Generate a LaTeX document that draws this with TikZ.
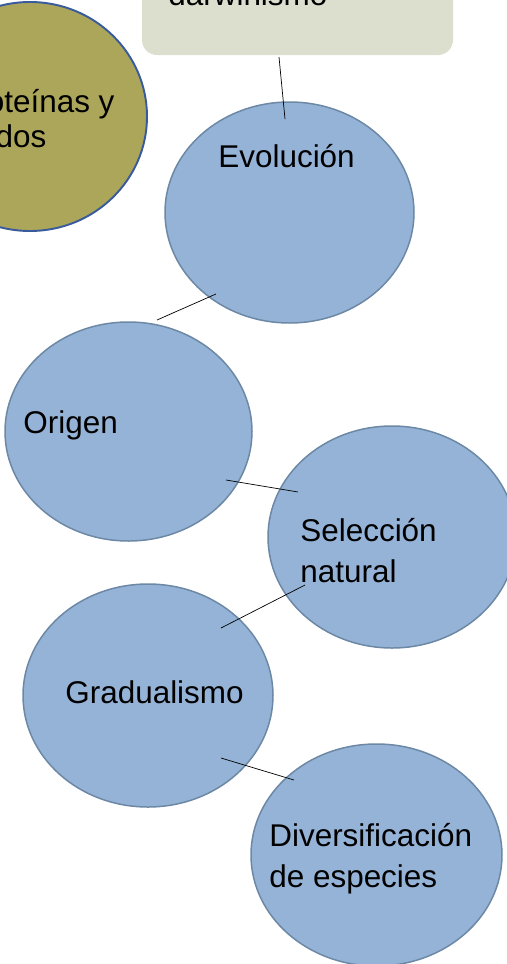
\documentclass[tikz,border=0pt]{standalone}
\usepackage{fontspec}
\setmainfont{Liberation Sans}
\usepackage{xcolor}
\usetikzlibrary{positioning,calc,shapes.geometric}

\definecolor{bubblefill}{HTML}{95B3D7}
\definecolor{bubbleline}{HTML}{6C88A5}
\definecolor{olivefill}{HTML}{ACA65A}
\definecolor{oliveline}{HTML}{3A5B9B}
\definecolor{boxfill}{HTML}{DCDECE}

\begin{document}
\begin{tikzpicture}[thin,
                bubble/.style={ellipse,fill=bubblefill,draw=bubbleline,line width=0.85pt,minimum width=4.98cm,minimum height=4.42cm,inner sep=0pt},
                olive node/.style={ellipse,fill=olivefill,draw=oliveline,line width=1.1pt,minimum width=4.68cm,minimum height=4.58cm,inner sep=0pt},
                label text/.style={anchor=base west,align=left,inner sep=0pt,font=\fontsize{17.9}{22.8}\selectfont}]
\useasboundingbox (0,0) rectangle (10.14,-19.28);
\clip (0,0) rectangle (10.14,-19.28);
%Nodes
    \node[fill=boxfill,rounded corners=0.3cm,minimum width=6.22cm,minimum height=2.3cm] (darw) at (5.95,0.05) {};
    \node[olive node] (prot) at (0.6,-2.33) {};
    \node[bubble] (evo) at (5.79,-4.25) {};
    \node[bubble,minimum width=4.94cm,minimum height=4.38cm] (ori) at (2.57,-8.63) {};
    \node[bubble,minimum width=4.96cm,minimum height=4.44cm] (sel) at (7.84,-10.74) {};
    \node[bubble,minimum width=5cm,minimum height=4.46cm] (gra) at (2.96,-13.91) {};
    \node[bubble,minimum width=5.02cm,minimum height=4.44cm] (div) at (7.53,-17.1) {};
%Texts (base = last line)
    \node[label text] (darw-t) at (3.36,-0.1) {darwinismo};
    \node[label text,font=\fontsize{17.9}{19.9}\selectfont] (prot-t) at (-0.9,-2.94) {Proteínas y\\ácidos};
    \node[label text] (evo-t) at (4.36,-3.34) {Evolución};
    \node[label text] (ori-t) at (0.46,-8.66) {Origen};
    \node[label text] (sel-t) at (6.0,-11.64) {Selección\\natural};
    \node[label text] (gra-t) at (1.3,-14.06) {Gradualismo};
    \node[label text] (div-t) at (5.38,-17.74) {Diversificación\\de especies};
%Lines
    \draw ($(darw)+(-0.37,-1.19)$) -- ($(evo)+(-0.09,1.87)$);
    \draw ($(evo)+(-1.47,-1.63)$) -- ($(ori)+(0.57,2.23)$);
    \draw ($(ori)+(1.95,-0.97)$) -- ($(sel)+(-1.88,0.90)$);
    \draw ($(sel)+(-1.74,-0.96)$) -- ($(gra)+(1.46,1.35)$);
    \draw ($(gra)+(1.46,-1.25)$) -- ($(div)+(-1.65,1.5)$);
\end{tikzpicture}
\end{document}
